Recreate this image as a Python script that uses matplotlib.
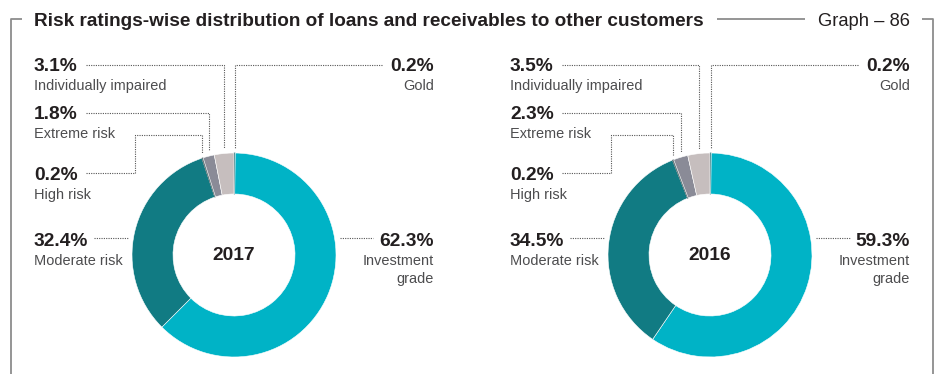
import matplotlib
matplotlib.use("Agg")
import numpy as np
import matplotlib.pyplot as plt

# Figure canvas in pixels
W, H = 937, 374
DPI = 100

# ---- data ----
title = "Risk ratings-wise distribution of loans and receivables to other customers"
graph_no = "Graph \u2013 86"
categories = ["Gold", "Investment grade", "Moderate risk", "High risk",
              "Extreme risk", "Individually impaired"]
name_lines = [["Gold"], ["Investment", "grade"], ["Moderate risk"], ["High risk"],
              ["Extreme risk"], ["Individually impaired"]]
years = ["2017", "2016"]
shares_2017 = [0.2, 62.3, 32.4, 0.2, 1.8, 3.1]
shares_2016 = [0.2, 59.3, 34.5, 0.2, 2.3, 3.5]

colors = ["#1d6a70", "#00b3c6", "#117b83", "#5e7478", "#8a8b97", "#c6bebe"]

DARK = "#231f20"
GREY_TXT = "#4d4d4f"
FRAME = "#8c8c8c"
LEADER = "#555555"

plt.rcParams["font.family"] = ["Liberation Sans", "DejaVu Sans"]

fig = plt.figure(figsize=(W / DPI, H / DPI), dpi=DPI)
ax = fig.add_axes([0, 0, 1, 1])
ax.set_xlim(0, W)
ax.set_ylim(0, H)
ax.axis("off")


def py(y):
    """Convert a top-down pixel row into data y."""
    return H - y


renderer = fig.canvas.get_renderer()


def right_edge(t):
    return t.get_window_extent(renderer).x1


def left_edge(t):
    return t.get_window_extent(renderer).x0


leader_kw = dict(color=LEADER, lw=0.8, linestyle=(0, (1.0, 1.1)),
                 solid_capstyle="butt", dash_capstyle="butt")

PCT_FS = 13.8
NAME_FS = 10.45
R = 102
RING = 41
CY = 255


def draw_donut(cx, year, shares):
    wedges, _ = ax.pie(shares, colors=colors, startangle=90, counterclock=False,
                       radius=R, center=(cx, py(CY)), frame=True,
                       wedgeprops=dict(width=RING, linewidth=0.4, edgecolor="white",
                                       antialiased=True))
    # gold and high-risk slivers keep their own colour as an edge
    for i in (0, 3):
        wedges[i].set_edgecolor(colors[i])
        wedges[i].set_linewidth(0.5)

    ax.text(cx, py(CY), year, ha="center", va="center", fontsize=13.8,
            fontweight="bold", color=DARK)

    def tip(i):
        w = wedges[i]
        mid = np.deg2rad((w.theta1 + w.theta2) / 2)
        x = cx + R * np.cos(mid)
        y_edge = CY - R * np.sin(mid)
        return x, y_edge - 5

    def label(i, x, base, ha):
        t = ax.text(x, py(base), f"{shares[i]:.1f}%", ha=ha, va="baseline",
                    fontsize=PCT_FS, fontweight="bold", color=DARK)
        for k, line in enumerate(name_lines[i]):
            ax.text(x, py(base + 19 + 18.5 * k), line, ha=ha, va="baseline",
                    fontsize=NAME_FS, color=GREY_TXT)
        return t

    lx = cx - 200
    rx = cx + 200

    # Individually impaired
    t = label(5, lx, 71, "left")
    x, ye = tip(5)
    ax.plot([right_edge(t) + 8, x, x], [py(65), py(65), py(ye)], **leader_kw)

    # Extreme risk
    t = label(4, lx, 119, "left")
    x, ye = tip(4)
    ax.plot([right_edge(t) + 8, x, x], [py(113), py(113), py(ye)], **leader_kw)

    # High risk
    t = label(3, lx, 180, "left")
    x, ye = tip(3)
    elbow = cx - 99
    ax.plot([right_edge(t) + 8, elbow, elbow, x, x],
            [py(173), py(173), py(135), py(135), py(ye)], **leader_kw)

    # Moderate risk
    t = label(2, lx, 246, "left")
    ax.plot([right_edge(t) + 6, cx - R - 4], [py(238), py(238)], **leader_kw)

    # Gold
    t = label(0, rx, 71, "right")
    x, ye = tip(0)
    ax.plot([left_edge(t) - 8, x, x], [py(65), py(65), py(ye)], **leader_kw)

    # Investment grade
    t = label(1, rx, 246, "right")
    ax.plot([cx + R + 4, left_edge(t) - 6], [py(238), py(238)], **leader_kw)


draw_donut(234, years[0], shares_2017)
draw_donut(710, years[1], shares_2016)

# ---- header and frame ----
ttl = ax.text(34, py(26), title, ha="left", va="baseline", fontsize=13.7,
              fontweight="bold", color=DARK)
gno = ax.text(910, py(26), graph_no, ha="right", va="baseline", fontsize=13.2,
              color=DARK)

frame_kw = dict(color=FRAME, lw=1.3, solid_capstyle="butt")
ax.plot([11, 11, 22], [0, py(19), py(19)], **frame_kw)
ax.plot([right_edge(ttl) + 13, left_edge(gno) - 13], [py(19), py(19)], **frame_kw)
ax.plot([922, 933, 933], [py(19), py(19), 0], **frame_kw)

ax.set_xlim(0, W)
ax.set_ylim(0, H)

fig.savefig("out.png", dpi=DPI)
